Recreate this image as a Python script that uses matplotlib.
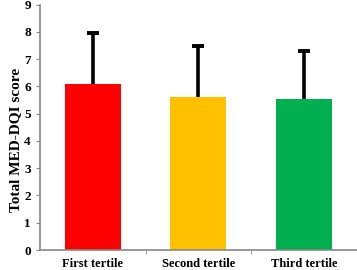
import matplotlib
matplotlib.use('Agg')
from matplotlib import pyplot as plt

groups = ['First tertile', 'Second tertile', 'Third tertile']
means = [6.1, 5.6, 5.53]
sds = [1.87, 1.87, 1.76]
colors = ['#FF0000', '#FFC000', '#00B050']

plt.rcParams['font.family'] = ['Liberation Serif', 'DejaVu Serif']
plt.rcParams['font.weight'] = 'bold'

fig = plt.figure(figsize=(3.57, 2.7), dpi=100)
ax = fig.add_axes([0.112, 0.074, 0.887, 0.909])

x = list(range(len(groups)))
tops = [m + s for m, s in zip(means, sds)]
ax.bar(x, means, width=0.53, color=colors, zorder=2)
# upper error bars only, cap on top
ax.vlines(x, means, tops, color='black', linewidth=2.6, zorder=3)
ax.plot(x, tops, linestyle='none', marker='_', markersize=8,
        markeredgewidth=2.8, color='black', zorder=3)

ax.set_xlim(-0.5, 2.5)
ax.set_ylim(0, 9)
ax.set_yticks(range(10))
ax.set_xticks(x)
ax.set_xticklabels(groups, fontsize=9, fontweight='bold')
ax.set_xticks([0.5, 1.5, 2.5], minor=True)
ax.tick_params(axis='x', which='major', length=0, pad=6)
ax.tick_params(axis='x', which='minor', length=3, color='#888888')
ax.tick_params(axis='y', length=3, color='#888888', labelsize=9.5)
for lab in ax.get_yticklabels():
    lab.set_fontweight('bold')

ax.set_ylabel('Total MED-DQI score', fontsize=11, fontweight='bold')
ax.yaxis.set_label_coords(-0.055, 0.45)

for side in ['top', 'right']:
    ax.spines[side].set_visible(False)
for side in ['left', 'bottom']:
    ax.spines[side].set_color('#888888')
    ax.spines[side].set_linewidth(1.2)

plt.savefig('out.png', dpi=100)
